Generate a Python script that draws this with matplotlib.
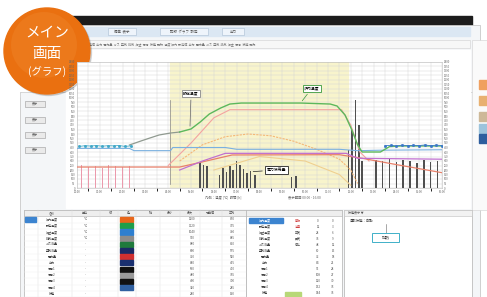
import numpy as np
import matplotlib
matplotlib.use("Agg")
import matplotlib.pyplot as plt
from matplotlib.patches import Circle, Rectangle

plt.rcParams['font.family'] = ['Noto Sans CJK JP', 'DejaVu Sans']

# ---- chart data (hours / degC) ----
temp_x = [2.3, 2.8, 3.2, 3.6, 4.1, 4.5, 5.0, 5.4, 5.8, 6.3, 6.7, 7.2, 9.8, 11.1, 11.4, 11.75, 12.05, 12.3, 12.5, 12.8, 13.3, 13.7, 14.2, 16.0]
temp_y = [478, 522, 556, 589, 611, 622, 656, 733, 822, 889, 933, 944, 944, 933, 911, 811, 644, 480, 400, 400, 400, 460, 467, 467]

mark_l_x = [0.1, 0.35, 0.6, 0.85, 1.1, 1.35, 1.6, 1.85, 2.1, 2.35]
mark_l_y = [462, 470, 466, 472, 464, 470, 468, 472, 462, 468]
mark_r_x = [13.5, 13.75, 14.0, 14.25, 14.5, 14.75, 15.0, 15.25, 15.5, 15.75, 16.0]
mark_r_y = [470, 474, 468, 476, 470, 474, 472, 478, 470, 476, 472]

blue_x = [0.0, 2.3, 2.5, 4.1, 4.2, 6.5, 7.0, 11.5, 12.3, 13.3, 16.0]
blue_y = [440, 440, 415, 415, 450, 450, 430, 430, 415, 420, 425]

red_x = [0.0, 4.5, 5.5, 6.8, 11.5, 12.5, 14.0, 16.0]
red_y = [233, 233, 290, 367, 370, 330, 260, 170]

purple_x = [4.5, 5.5, 6.5, 11.8, 12.3, 16.0]
purple_y = [200, 300, 385, 385, 330, 320]

salmon_x = [4.0, 5.0, 6.0, 6.7, 11.6, 12.0, 12.4, 12.8]
salmon_y = [250, 500, 780, 870, 870, 700, 400, 300]

dome_x = [4.5, 5.5, 6.5, 7.5, 8.5, 9.5, 10.5, 11.5, 12.0, 12.3]
dome_y = [300, 480, 570, 600, 580, 520, 430, 320, 200, 50]

tan_x = [6.0, 8.0, 10.0, 11.5, 12.0]
tan_y = [200, 350, 300, 150, 30]

bar_x = [5.4, 5.55, 5.7, 6.25, 6.4, 6.55, 6.7, 6.85, 7.0, 7.15, 7.3, 7.45, 7.6, 7.8, 9.4, 9.6,
         11.9, 12.05, 12.2, 12.35, 12.5, 13.1, 13.4, 13.7, 14.0, 14.3, 14.6, 14.9, 15.2, 15.5, 15.8]
bar_h = [290, 260, 240, 150, 220, 180, 250, 200, 300, 260, 210, 170, 190, 140, 120, 130,
         420, 640, 980, 700, 300, 310, 300, 320, 290, 310, 300, 280, 310, 290, 300]

spike_x = [0.2, 0.5, 0.8, 1.1, 1.4, 1.7, 2.0, 2.3]
spike_h = [255, 230, 250, 220, 255, 240, 230, 250]

swatch_colors = ['#e8661a', '#1e9e4a', '#2e7fd0', '#8c8c8c', '#1f7a3c', '#1b2a66',
                 '#d03030', '#1a3070', '#111111', '#9a9a9a', '#111111', '#3060a0']
row_names = ['炉内温度', '設定温度', '炉壁温度', '排気温度', 'ガス流量', '空気流量',
             '電力量', '出力', '信号1', '信号2', '信号3', '信号4', '状態']

fig = plt.figure(figsize=(4.87, 2.97), dpi=100)
bg = fig.add_axes([0, 0, 1, 1])
bg.set_xlim(0, 487)
bg.set_ylim(297, 0)
bg.axis('off')

# monitor frame
bg.add_patch(Rectangle((62, 16), 410, 9, color='#1c1c1c', zorder=1))
bg.add_patch(Rectangle((62, 25), 418, 70, color='#f4f6f8', ec='#c8c8c8', lw=0.6, zorder=1))
bg.add_patch(Rectangle((20, 92), 460, 205, color='#f4f6f8', ec='#c8c8c8', lw=0.6, zorder=1))
bg.add_patch(Rectangle((21, 93), 60, 4, color='#f4f6f8', zorder=1))
bg.add_patch(Rectangle((66, 27), 404, 9, color='#dbe7f3', zorder=2))
for tx, tw, lab in [(108, 28, '編集  表示'), (160, 48, '記録  グラフ  設定'), (222, 22, '出力')]:
    bg.add_patch(Rectangle((tx, 28), tw, 7, color='#eef4fb', ec='#a9bdd3', lw=0.4, zorder=3))
    bg.text(tx + tw / 2, 31.5, lab, fontsize=2.5, color='#555', ha='center', va='center', zorder=4)
bg.add_patch(Rectangle((66, 40), 404, 8, color='#f7f7f7', ec='#d0d0d0', lw=0.4, zorder=2))
bg.text(72, 44, '温度 炉内  設定値  出力  電力量  ガス  空気  排気  炉壁  信号  状態  記録  ' * 2,
        fontsize=2.2, color='#777', va='center', zorder=3, clip_on=True)
bg.add_patch(Rectangle((66, 50), 404, 158, color='white', zorder=2))

# left sidebar buttons
for by in [101, 117, 132, 147]:
    bg.add_patch(Rectangle((25, by), 20, 6, color='#eaeaea', ec='#9a9a9a', lw=0.4, zorder=3))
    bg.text(35, by + 3, '表示', fontsize=2.2, color='#555', ha='center', va='center', zorder=4)

# right panel
bg.add_patch(Rectangle((472, 40), 15, 170, color='#fafafa', ec='#d0d0d0', lw=0.4, zorder=2))
for iy, c in [(80, '#f0a060'), (96, '#e8b070'), (112, '#cdb898'), (124, '#9cc3dc'), (134, '#2e5e9e')]:
    bg.add_patch(Rectangle((479, iy), 8, 9, color=c, zorder=3))

# ---- chart ----
ax = fig.add_axes([77 / 487, (297 - 188) / 297, 365 / 487, 126 / 297])
ax.set_xlim(0, 16)
ax.set_ylim(0, 1400)
ax.axvspan(4.08, 11.88, color='#f8f4cc', zorder=0)
ax.set_xticks(np.arange(0, 16.01, 1))
ax.set_xticks(np.arange(0, 16.01, 0.5), minor=True)
ax.set_yticks(np.arange(0, 1401, 50))
ax.grid(True, which='both', color='#d6d6d6', lw=0.35)
ax.tick_params(labelsize=2.0, length=0, pad=1.5, colors='#666')
ax.set_xticklabels([f'{h:02d}:00' for h in range(17)])
ax.yaxis.set_ticks_position('both')
ax.tick_params(labelright=True)
for s in ax.spines.values():
    s.set_color('#bbbbbb')
    s.set_linewidth(0.4)
ax.axvline(4.08, ymin=0.03, ymax=0.7, color='#888', lw=0.5)

ax.bar(spike_x, spike_h, width=0.04, color='#eb9aac', zorder=2)
ax.bar(bar_x, bar_h, width=0.07, color='#505050', zorder=2)
ax.plot(tan_x, tan_y, color='#f0d090', lw=0.8, zorder=3)
ax.plot(dome_x, dome_y, color='#f5b878', lw=0.8, ls=(0, (2, 1)), zorder=3)
ax.plot(salmon_x, salmon_y, color='#f4a3a0', lw=0.8, zorder=3)
ax.plot(red_x, red_y, color='#e8806a', lw=0.9, zorder=3)
ax.plot(purple_x, purple_y, color='#c070d0', lw=0.9, zorder=3)
ax.plot(blue_x, blue_y, color='#7ab0e0', lw=0.8, zorder=3)
ax.plot(temp_x[:6], temp_y[:6], color='#909a90', lw=0.9, zorder=4)
ax.plot(temp_x[5:], temp_y[5:], color='#5cb85c', lw=1.0, zorder=4)
ax.plot(mark_l_x, mark_l_y, color='#40a8c8', lw=0.6, marker='s', ms=1.0, zorder=4)
ax.plot(mark_r_x, mark_r_y, color='#3a78c8', lw=0.6, marker='s', ms=1.0, zorder=4)

box = dict(boxstyle='square,pad=0.4', fc='white', lw=0.6)
ax.annotate('設定温度', xy=(4.95, 656), xytext=(5.0, 1050), fontsize=2.8, ha='center', va='center',
            bbox=dict(box, ec='#888888'), arrowprops=dict(arrowstyle='-', color='#666', lw=0.5), zorder=6)
ax.annotate('炉内温度', xy=(9.8, 944), xytext=(10.3, 1110), fontsize=2.8, ha='center', va='center',
            bbox=dict(box, ec='#3a9a3a'), arrowprops=dict(arrowstyle='-', color='#3a9a3a', lw=0.5), zorder=6)
ax.annotate('電力使用量', xy=(7.6, 180), xytext=(8.75, 200), fontsize=2.8, ha='center', va='center',
            bbox=dict(box, ec='#222222'), arrowprops=dict(arrowstyle='-', color='#222', lw=0.5), zorder=6)

bg.text(205, 197, '凡例：温度 [℃]  時間 [h]', fontsize=2.4, color='#666', va='center', zorder=3)
bg.text(288, 197, '表示範囲 00:00 - 16:00', fontsize=2.4, color='#666', va='center', zorder=3)

# ---- bottom tables ----
bg.add_patch(Rectangle((24, 210), 222, 87, color='white', ec='#b0b0b0', lw=0.5, zorder=2))
bg.add_patch(Rectangle((24, 210), 222, 6, color='#eeeeee', ec='#b0b0b0', lw=0.4, zorder=3))
for hx, lab in [(52, '名称'), (85, '単位'), (110, '線'), (128, '色'), (150, '軸'), (170, '最小'),
                (190, '最大'), (210, '現在値'), (232, '平均')]:
    bg.text(hx, 213, lab, fontsize=2.2, color='#555', ha='center', va='center', zorder=4)
for cx in [38, 72, 100, 118, 136, 160, 180, 200, 222]:
    bg.plot([cx, cx], [210, 297], color='#dddddd', lw=0.3, zorder=3)
bg.add_patch(Rectangle((25, 217), 11, 5, color='#3c84d0', zorder=4))
for i, name in enumerate(row_names):
    ry = 219.5 + i * 6.2
    bg.plot([24, 246], [ry + 3.1, ry + 3.1], color='#eeeeee', lw=0.3, zorder=3)
    bg.text(52, ry, name, fontsize=2.2, color='#444', ha='center', va='center', zorder=4)
    bg.text(85, ry, '℃' if i < 4 else '-', fontsize=2.2, color='#666', ha='center', va='center', zorder=4)
    if i < len(swatch_colors):
        bg.add_patch(Rectangle((120, ry - 2.6), 13, 5.2, color=swatch_colors[i], zorder=4))
    bg.text(192, ry, f'{1200 - i * 80}', fontsize=2.2, color='#555', ha='center', va='center', zorder=4)
    bg.text(232, ry, f'{850 - i * 55}', fontsize=2.2, color='#555', ha='center', va='center', zorder=4)

bg.add_patch(Rectangle((246, 210), 96, 87, color='white', ec='#b0b0b0', lw=0.5, zorder=2))
bg.add_patch(Rectangle((246, 210), 96, 6, color='#eeeeee', ec='#b0b0b0', lw=0.4, zorder=3))
bg.add_patch(Rectangle((249, 218), 34, 5, color='#3c84d0', zorder=4))
for i, name in enumerate(row_names):
    ry = 220.5 + i * 6.0
    bg.text(265, ry, name, fontsize=2.2, color='white' if i == 0 else '#444', ha='center', va='center', zorder=5)
    bg.text(298, ry, ['警報', '注意', '正常', '異常', '停止'][i % 5] if i < 5 else '', fontsize=2.2,
            color='#d04040' if i < 2 else '#555', ha='center', va='center', zorder=5)
    bg.text(318, ry, f'{i * 12}', fontsize=2.2, color='#555', ha='center', va='center', zorder=5)
    bg.text(333, ry, f'{i * 3}', fontsize=2.2, color='#555', ha='center', va='center', zorder=5)
bg.add_patch(Rectangle((285, 292), 16, 5, color='#b8d878', zorder=4))

bg.add_patch(Rectangle((344, 210), 128, 87, color='white', ec='#b0b0b0', lw=0.5, zorder=2))
bg.add_patch(Rectangle((344, 210), 128, 6, color='#f2f2f2', ec='#c0c0c0', lw=0.4, zorder=3))
bg.text(348, 213, '状態表示 ▼', fontsize=2.2, color='#555', va='center', zorder=4)
bg.text(350, 221, '運転状態：自動', fontsize=2.4, color='#444', va='center', zorder=4)
bg.plot([386, 386], [224, 233], color='#666', lw=0.4, zorder=4)
bg.add_patch(Rectangle((372, 233), 27, 9, color='white', ec='#40b0c8', lw=0.7, zorder=4))
bg.text(385.5, 237.5, '加熱', fontsize=2.8, color='#333', ha='center', va='center', zorder=5)

# ---- orange badge ----
bg.add_patch(Circle((48.5, 52.5), 43, color='#00000022', zorder=9))
bg.add_patch(Circle((47, 51), 43, color='#ea7010', zorder=10))
bg.add_patch(Circle((44, 45), 33, color='#f08a30', alpha=0.35, zorder=10, lw=0))
bg.text(47, 33, 'メイン', fontsize=10.5, color='white', ha='center', va='center', zorder=11)
bg.text(47, 54, '画面', fontsize=10.5, color='white', ha='center', va='center', zorder=11)
bg.text(47, 72, '(グラフ)', fontsize=7.5, color='white', ha='center', va='center', zorder=11)

fig.savefig('out.png', dpi=100)
